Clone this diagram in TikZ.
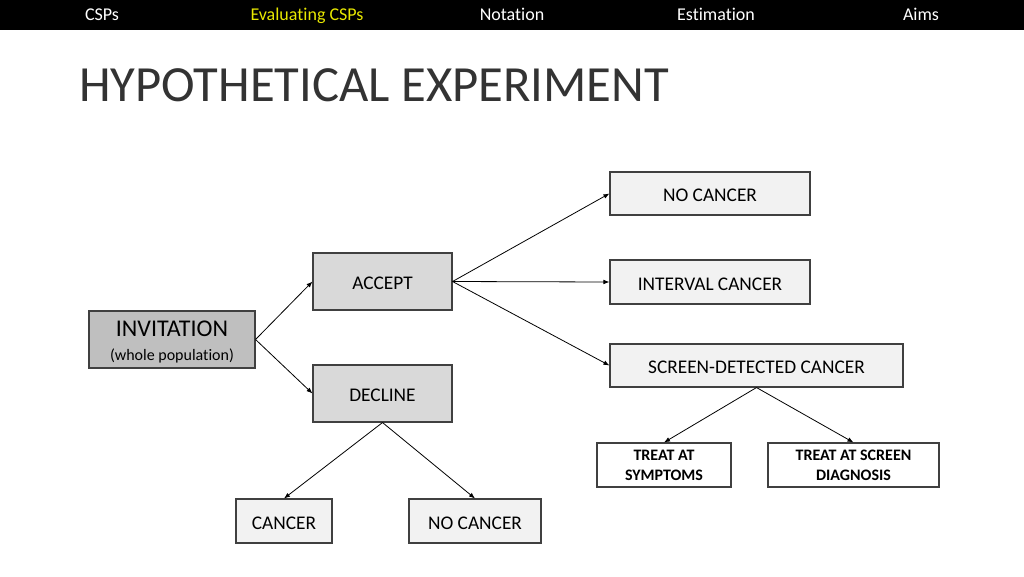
\documentclass[tikz,border=0pt]{standalone}
\usepackage{fontspec}
\setmainfont[Ligatures=NoCommon]{Carlito}
\usetikzlibrary{arrows.meta}
\newcommand{\pxu}{0.75pt}
\definecolor{navyellow}{HTML}{E8E800}
\definecolor{boxline}{HTML}{404040}
\definecolor{darkfill}{HTML}{BFBFBF}
\definecolor{midfill}{HTML}{D9D9D9}
\definecolor{lightfill}{HTML}{F2F2F2}

\begin{document}
\begin{tikzpicture}[x=0.75pt,y=-0.75pt,
  box/.style={draw=boxline, line width=0.8pt, inner sep=0pt, align=center,
    font=\fontsize{14.5}{17}\selectfont},
  onebox/.style={box, text height=12pt, text depth=0pt},
  navitem/.style={white, anchor=base, font=\fontsize{13.5}{16}\selectfont},
  arr/.style={-{Latex[length=4.5pt,width=3.5pt]}, line width=0.6pt}]
  \useasboundingbox (0,0) rectangle (1024,576);
  \fill[white] (0,0) rectangle (1024,576);
  \fill[black] (0,0) rectangle (1024,30);
  \node[navitem] (nav1) at (102,20.5) {CSPs};
  \node[navitem, navyellow] (nav2) at (307,20.5) {Evaluating CSPs};
  \node[navitem] (nav3) at (512,20.5) {Notation};
  \node[navitem] (nav4) at (716,20.5) {Estimation};
  \node[navitem] (nav5) at (921,20.5) {Aims};
  \node[anchor=west, inner sep=0pt, font=\fontsize{38}{40}\selectfont, text=black!80] (title) at (79,85) {HYPOTHETICAL EXPERIMENT};

  \node[box, fill=darkfill, minimum width=166*\pxu, minimum height=57*\pxu] (inv) at (172,339.5)
    {\rule{0pt}{15pt}{\fontsize{18}{21}\selectfont INVITATION}\\[1pt]{\fontsize{12}{14}\selectfont (whole population)}};
  \node[onebox, fill=midfill, minimum width=139*\pxu, minimum height=57*\pxu] (acc) at (382.5,281.5) {ACCEPT};
  \node[onebox, fill=midfill, minimum width=139*\pxu, minimum height=57*\pxu] (dec) at (382.5,393.5) {DECLINE};
  \node[onebox, fill=lightfill, minimum width=200*\pxu, minimum height=43*\pxu] (nc1) at (710,193.5) {NO CANCER};
  \node[onebox, fill=lightfill, minimum width=200*\pxu, minimum height=44*\pxu] (ic) at (710,282) {INTERVAL CANCER};
  \node[onebox, fill=lightfill, minimum width=293*\pxu, minimum height=43*\pxu] (sd) at (756.5,365.5) {SCREEN-DETECTED CANCER};
  \node[box, fill=white, minimum width=134*\pxu, minimum height=44*\pxu, font=\fontsize{12}{15}\selectfont\bfseries] (ts) at (664,465) {TREAT AT\\SYMPTOMS};
  \node[box, fill=white, minimum width=171*\pxu, minimum height=44*\pxu, font=\fontsize{12}{15}\selectfont\bfseries] (td) at (853.5,465) {TREAT AT SCREEN\\DIAGNOSIS};
  \node[onebox, fill=lightfill, minimum width=96*\pxu, minimum height=44*\pxu] (ca) at (284,521) {CANCER};
  \node[onebox, fill=lightfill, minimum width=132*\pxu, minimum height=44*\pxu] (nc2) at (475,521) {NO CANCER};

  \draw[arr] (inv.east) -- (acc.west);
  \draw[arr] (inv.east) -- (dec.west);
  \draw[arr] (acc.east) -- (nc1.west);
  \draw[arr] (acc.east) -- (ic.west);
  \draw[arr] (acc.east) -- (sd.west);
  \draw[arr] (dec.south) -- (ca.north);
  \draw[arr] (dec.south) -- (nc2.north);
  \draw[arr] (sd.south) -- (ts.north);
  \draw[arr] (sd.south) -- (td.north);
\end{tikzpicture}
\end{document}
